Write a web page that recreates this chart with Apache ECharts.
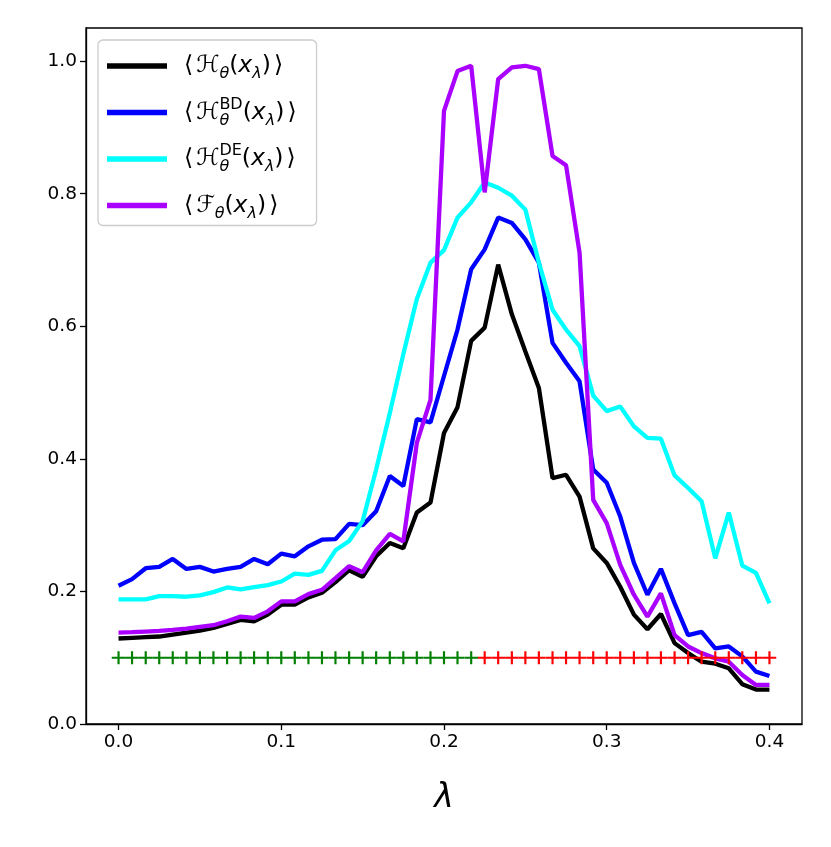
<!DOCTYPE html>
<html>
<head>
<meta charset="utf-8">
<script src="https://cdn.jsdelivr.net/npm/echarts@6/dist/echarts.min.js"></script>
<style>
html,body{margin:0;padding:0;background:#fff;}
#chart{width:831px;height:847px;}
</style>
</head>
<body>
<div id="chart"></div>
<script>
// ---- data ----
const lambdas = [0, 0.0083, 0.0167, 0.025, 0.0333, 0.0417, 0.05, 0.0583, 0.0667, 0.075,
  0.0833, 0.0917, 0.1, 0.1083, 0.1167, 0.125, 0.1333, 0.1417, 0.15, 0.1583,
  0.1667, 0.175, 0.1833, 0.1917, 0.2, 0.2083, 0.2167, 0.225, 0.2333, 0.2417,
  0.25, 0.2583, 0.2667, 0.275, 0.2833, 0.2917, 0.3, 0.3083, 0.3167, 0.325,
  0.3333, 0.3417, 0.35, 0.3583, 0.3667, 0.375, 0.3833, 0.3917, 0.4];

const hTheta = [0.129, 0.130, 0.131, 0.132, 0.135, 0.138, 0.141, 0.145, 0.151, 0.157,
  0.155, 0.165, 0.180, 0.180, 0.191, 0.198, 0.214, 0.232, 0.222, 0.253,
  0.273, 0.265, 0.319, 0.334, 0.439, 0.478, 0.578, 0.598, 0.693, 0.618,
  0.562, 0.507, 0.371, 0.376, 0.343, 0.265, 0.243, 0.207, 0.165, 0.143,
  0.166, 0.122, 0.107, 0.094, 0.091, 0.084, 0.060, 0.052, 0.052];

const hBD = [0.2085, 0.2185, 0.235, 0.237, 0.249, 0.234, 0.237, 0.230, 0.234, 0.237,
  0.249, 0.241, 0.257, 0.253, 0.268, 0.278, 0.279, 0.302, 0.300, 0.321,
  0.374, 0.359, 0.460, 0.455, 0.525, 0.595, 0.686, 0.716, 0.764, 0.756,
  0.731, 0.696, 0.575, 0.545, 0.517, 0.384, 0.364, 0.313, 0.243, 0.195,
  0.234, 0.182, 0.134, 0.139, 0.114, 0.117, 0.102, 0.079, 0.0725];

const hDE = [0.188, 0.188, 0.188, 0.193, 0.193, 0.192, 0.194, 0.199, 0.206, 0.203,
  0.2065, 0.2095, 0.215, 0.227, 0.225, 0.231, 0.262, 0.276, 0.306, 0.384,
  0.469, 0.558, 0.641, 0.696, 0.715, 0.764, 0.787, 0.817, 0.809, 0.797,
  0.776, 0.696, 0.625, 0.595, 0.570, 0.4955, 0.472, 0.479, 0.449, 0.4315,
  0.4305, 0.375, 0.356, 0.336, 0.250, 0.319, 0.239, 0.228, 0.182];

const fTheta = [0.138, 0.1385, 0.1395, 0.1405, 0.142, 0.144, 0.1465, 0.149, 0.155, 0.162,
  0.160, 0.170, 0.185, 0.185, 0.196, 0.2025, 0.220, 0.238, 0.229, 0.262,
  0.287, 0.2755, 0.424, 0.489, 0.925, 0.985, 0.993, 0.802, 0.973, 0.9905,
  0.993, 0.988, 0.857, 0.843, 0.711, 0.338, 0.303, 0.240, 0.195, 0.162,
  0.197, 0.134, 0.117, 0.107, 0.099, 0.094, 0.074, 0.059, 0.059];

const markerLevel = 0.1;
const splitIndex = 27;          // first index of the red phase
const xTicks = [0, 0.1, 0.2, 0.3, 0.4];
const yTicks = [0, 0.2, 0.4, 0.6, 0.8, 1.0];
const seriesNames = ['H', 'HBD', 'HDE', 'F'];

// ---- chart ----
const FONT = 'DejaVu Sans';
const plusPath = 'path://M0,42 L100,42 L100,58 L0,58 Z M42,0 L58,0 L58,100 L42,100 Z';

function pairs(ys) { return lambdas.map((x, i) => [x, ys[i]]); }
const greenMarks = lambdas.slice(0, splitIndex).map(x => [x, markerLevel]);
const redMarks = lambdas.slice(splitIndex).map(x => [x, markerLevel]);

const legendRich = {
  'H':   '{la|⟨}{m|ℋ}{sub|θ}{m|(}{it|x}{sub|λ}{m|)}{ra|⟩}',
  'HBD': '{la|⟨}{m|ℋ}{sub0|θ}{sup|BD}{m|(}{it|x}{sub|λ}{m|)}{ra|⟩}',
  'HDE': '{la|⟨}{m|ℋ}{sub0|θ}{sup|DE}{m|(}{it|x}{sub|λ}{m|)}{ra|⟩}',
  'F':   '{la|⟨}{m|ℱ}{sub|θ}{m|(}{it|x}{sub|λ}{m|)}{ra|⟩}'
};

function lineSeries(name, ys, color, z) {
  return {
    name: name, type: 'line', data: pairs(ys), symbol: 'none', z: z,
    lineStyle: { width: 4.3, color: color }, itemStyle: { color: color },
    emphasis: { disabled: true }
  };
}

const chart = echarts.init(document.getElementById('chart'), null, { renderer: 'canvas' });
chart.setOption({
  animation: false,
  backgroundColor: '#ffffff',
  grid: { left: 86, right: 29, top: 28, bottom: 123, show: true, borderColor: '#000', borderWidth: 1.3, backgroundColor: 'transparent' },
  xAxis: {
    type: 'value', min: -0.02, max: 0.42,
    name: 'λ', nameLocation: 'middle', nameGap: 58,
    nameTextStyle: { fontSize: 33, fontStyle: 'italic', fontFamily: FONT, color: '#000' },
    axisLine: { show: true, onZero: false, lineStyle: { color: '#000', width: 1.3 } },
    axisTick: { show: true, customValues: xTicks, length: 6, lineStyle: { color: '#000', width: 1.3 } },
    axisLabel: { customValues: xTicks, formatter: v => v.toFixed(1), fontSize: 18.5, fontFamily: FONT, color: '#000', margin: 9 },
    splitLine: { show: false }
  },
  yAxis: {
    type: 'value', min: 0, max: 1.05,
    axisLine: { show: true, onZero: false, lineStyle: { color: '#000', width: 1.3 } },
    axisTick: { show: true, customValues: yTicks, length: 6, lineStyle: { color: '#000', width: 1.3 } },
    axisLabel: { customValues: yTicks, formatter: v => v.toFixed(1), fontSize: 18.5, fontFamily: FONT, color: '#000', margin: 9 },
    splitLine: { show: false }
  },
  legend: {
    data: seriesNames, orient: 'vertical', left: 98, top: 40,
    icon: 'rect', itemWidth: 60, itemHeight: 5.5, itemGap: 14.5,
    padding: [10, 20, 4, 9],
    backgroundColor: '#ffffff', borderColor: '#cccccc', borderWidth: 1.3, borderRadius: 5,
    selectedMode: false,
    formatter: n => legendRich[n],
    textStyle: {
      padding: [0, 0, 0, 12],
      height: 32, lineHeight: 32,
      rich: {
        la: { fontSize: 23.5, fontFamily: FONT, color: '#000', lineHeight: 32, verticalAlign: 'middle', padding: [0, 3, 0, 0] },
        ra: { fontSize: 23.5, fontFamily: FONT, color: '#000', lineHeight: 32, verticalAlign: 'middle', padding: [0, 0, 0, 3] },
        m: { fontSize: 23.5, fontFamily: FONT, color: '#000', lineHeight: 32, verticalAlign: 'middle' },
        it: { fontSize: 23.5, fontFamily: FONT, fontStyle: 'italic', color: '#000', lineHeight: 32, verticalAlign: 'middle' },
        sub: { fontSize: 16, fontFamily: FONT, fontStyle: 'italic', color: '#000', lineHeight: 15, verticalAlign: 'bottom' },
        sub0: { fontSize: 16, fontFamily: FONT, fontStyle: 'italic', color: '#000', lineHeight: 15, verticalAlign: 'bottom', width: 0 },
        sup: { fontSize: 16, fontFamily: FONT, color: '#000', lineHeight: 15, verticalAlign: 'top' }
      }
    }
  },
  series: [
    lineSeries('H', hTheta, '#000000', 2),
    lineSeries('HBD', hBD, '#0000ff', 3),
    lineSeries('HDE', hDE, '#00ffff', 4),
    lineSeries('F', fTheta, '#aa00ff', 5),
    { type: 'scatter', name: 'stable', data: greenMarks, symbol: plusPath, symbolSize: [13.6, 13], z: 6,
      itemStyle: { color: '#008000', opacity: 1 }, emphasis: { disabled: true } },
    { type: 'scatter', name: 'unstable', data: redMarks, symbol: plusPath, symbolSize: [13.6, 13], z: 6,
      itemStyle: { color: '#ff0000', opacity: 1 }, emphasis: { disabled: true } }
  ]
});
</script>
</body>
</html>
